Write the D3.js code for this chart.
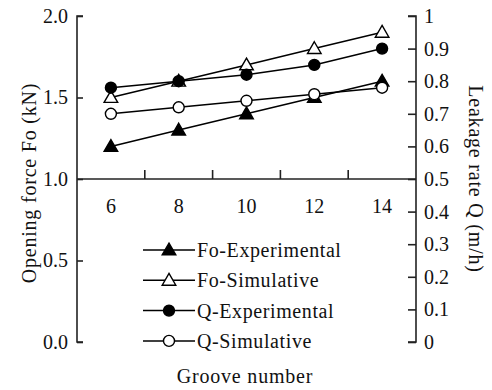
<!DOCTYPE html>
<html>
<head>
<meta charset="utf-8">
<script src="https://cdn.jsdelivr.net/npm/d3@7"></script>
<style>
  body { margin: 0; background: #fff; }
  text { font-family: "Liberation Serif", "Times New Roman", serif; fill: #111; }
</style>
</head>
<body>
<div id="chart"></div>
<script>
// groove numbers on the x axis
const grooves = [6, 8, 10, 12, 14];
// opening force (kN), left axis
const foExperimental = [1.2, 1.3, 1.4, 1.5, 1.6];
const foSimulative = [1.5, 1.6, 1.7, 1.8, 1.9];
// leakage rate (m/h), right axis
const qExperimental = [0.78, 0.80, 0.82, 0.85, 0.90];
const qSimulative = [0.70, 0.72, 0.74, 0.76, 0.78];

const leftTicks = [0, 0.5, 1.0, 1.5, 2.0];
const rightTicks = [0, 0.1, 0.2, 0.3, 0.4, 0.5, 0.6, 0.7, 0.8, 0.9, 1];

const width = 492, height = 390;
const margin = {top: 16, right: 76, bottom: 48, left: 77};

const svg = d3.select("#chart").append("svg")
  .attr("width", width).attr("height", height);

const x = d3.scaleBand()
  .domain(grooves)
  .range([margin.left, width - margin.right]);
const yL = d3.scaleLinear().domain([0, 2]).range([height - margin.bottom, margin.top]);
const yR = d3.scaleLinear().domain([0, 1]).range([height - margin.bottom, margin.top]);

const cx = d => x(d) + x.bandwidth() / 2;

// left axis
svg.append("g")
  .attr("transform", `translate(${margin.left},0)`)
  .call(d3.axisRight(yL).tickValues(leftTicks).tickSize(6).tickFormat(d3.format(".1f")))
  .call(g => g.selectAll("text").attr("x", -9).attr("text-anchor", "end"))
  .call(g => g.select(".domain").attr("d", `M6,${yL(2)}H0V${yL(0)}H6`));

// right axis
svg.append("g")
  .attr("transform", `translate(${width - margin.right},0)`)
  .call(d3.axisLeft(yR).tickValues(rightTicks).tickSize(8).tickFormat(d => d === 0 || d === 1 ? d : d3.format(".1f")(d)))
  .call(g => g.selectAll("text").attr("x", 8).attr("text-anchor", "start"))
  .call(g => g.select(".domain").attr("d", `M-8,${yR(1)}H0V${yR(0)}H-8`));

// horizontal axis drawn at Fo = 1.0, ticks between categories
const xAxis = svg.append("g").attr("transform", `translate(0,${yL(1)})`);
xAxis.append("line")
  .attr("x1", margin.left).attr("x2", width - margin.right)
  .attr("stroke", "#222").attr("stroke-width", 1.6);
xAxis.selectAll(".tk").data(grooves.slice(1)).join("line")
  .attr("x1", d => x(d)).attr("x2", d => x(d))
  .attr("y1", 0).attr("y2", -9)
  .attr("stroke", "#222").attr("stroke-width", 1.6);
xAxis.selectAll(".lb").data(grooves).join("text")
  .attr("x", cx).attr("y", 34)
  .attr("text-anchor", "middle").style("font-size", "20px")
  .text(d => d);

svg.selectAll(".domain").attr("stroke", "#222").attr("stroke-width", 1.6).attr("fill", "none");
svg.selectAll(".tick line").attr("stroke", "#222").attr("stroke-width", 1.6);
svg.selectAll(".tick text").style("font-size", "20px").attr("fill", "#111");

const series = [
  {name: "Fo-Experimental", values: foExperimental, y: yL, shape: "triangle", fill: "#000"},
  {name: "Fo-Simulative", values: foSimulative, y: yL, shape: "triangle", fill: "#fff"},
  {name: "Q-Experimental", values: qExperimental, y: yR, shape: "circle", fill: "#000"},
  {name: "Q-Simulative", values: qSimulative, y: yR, shape: "circle", fill: "#fff"}
];

const sym = s => d3.symbol()
  .type(s.shape === "triangle" ? d3.symbolTriangle : d3.symbolCircle)
  .size(s.shape === "triangle" ? 80 : 95)();

series.forEach(s => {
  const pts = grooves.map((g, i) => [cx(g), s.y(s.values[i])]);
  svg.append("path")
    .attr("d", d3.line()(pts))
    .attr("fill", "none").attr("stroke", "#000").attr("stroke-width", 1.5);
  svg.selectAll(null).data(pts).join("path")
    .attr("d", sym(s))
    .attr("transform", d => `translate(${d[0]},${d[1] + (s.shape === "triangle" ? 1 : 0)})`)
    .attr("fill", s.fill).attr("stroke", "#000").attr("stroke-width", 1.4);
});

// legend
const legend = svg.append("g").attr("transform", "translate(143,250)");
series.forEach((s, i) => {
  const g = legend.append("g").attr("transform", `translate(0,${i * 30.3})`);
  g.append("line").attr("x1", 0).attr("x2", 52)
    .attr("stroke", "#000").attr("stroke-width", 1.5);
  g.append("path").attr("d", sym(s))
    .attr("transform", `translate(26,${s.shape === "triangle" ? 1 : 0})`)
    .attr("fill", s.fill).attr("stroke", "#000").attr("stroke-width", 1.4);
  g.append("text").attr("x", 54).attr("y", 7)
    .style("font-size", "20px").style("letter-spacing", "0.6px")
    .text(s.name);
});

// axis titles
svg.append("text")
  .attr("transform", `translate(36,${(margin.top + height - margin.bottom) / 2 + 4}) rotate(-90)`)
  .attr("text-anchor", "middle").style("font-size", "20px").style("letter-spacing", "0.8px")
  .text("Opening force Fo (kN)");
svg.append("text")
  .attr("transform", `translate(469,${(margin.top + height - margin.bottom) / 2}) rotate(90)`)
  .attr("text-anchor", "middle").style("font-size", "20px").style("letter-spacing", "0.8px")
  .text("Leakage rate Q (m/h)");
svg.append("text")
  .attr("x", 245).attr("y", 383)
  .attr("text-anchor", "middle").style("font-size", "20px").style("letter-spacing", "0.8px")
  .text("Groove number");
</script>
</body>
</html>
